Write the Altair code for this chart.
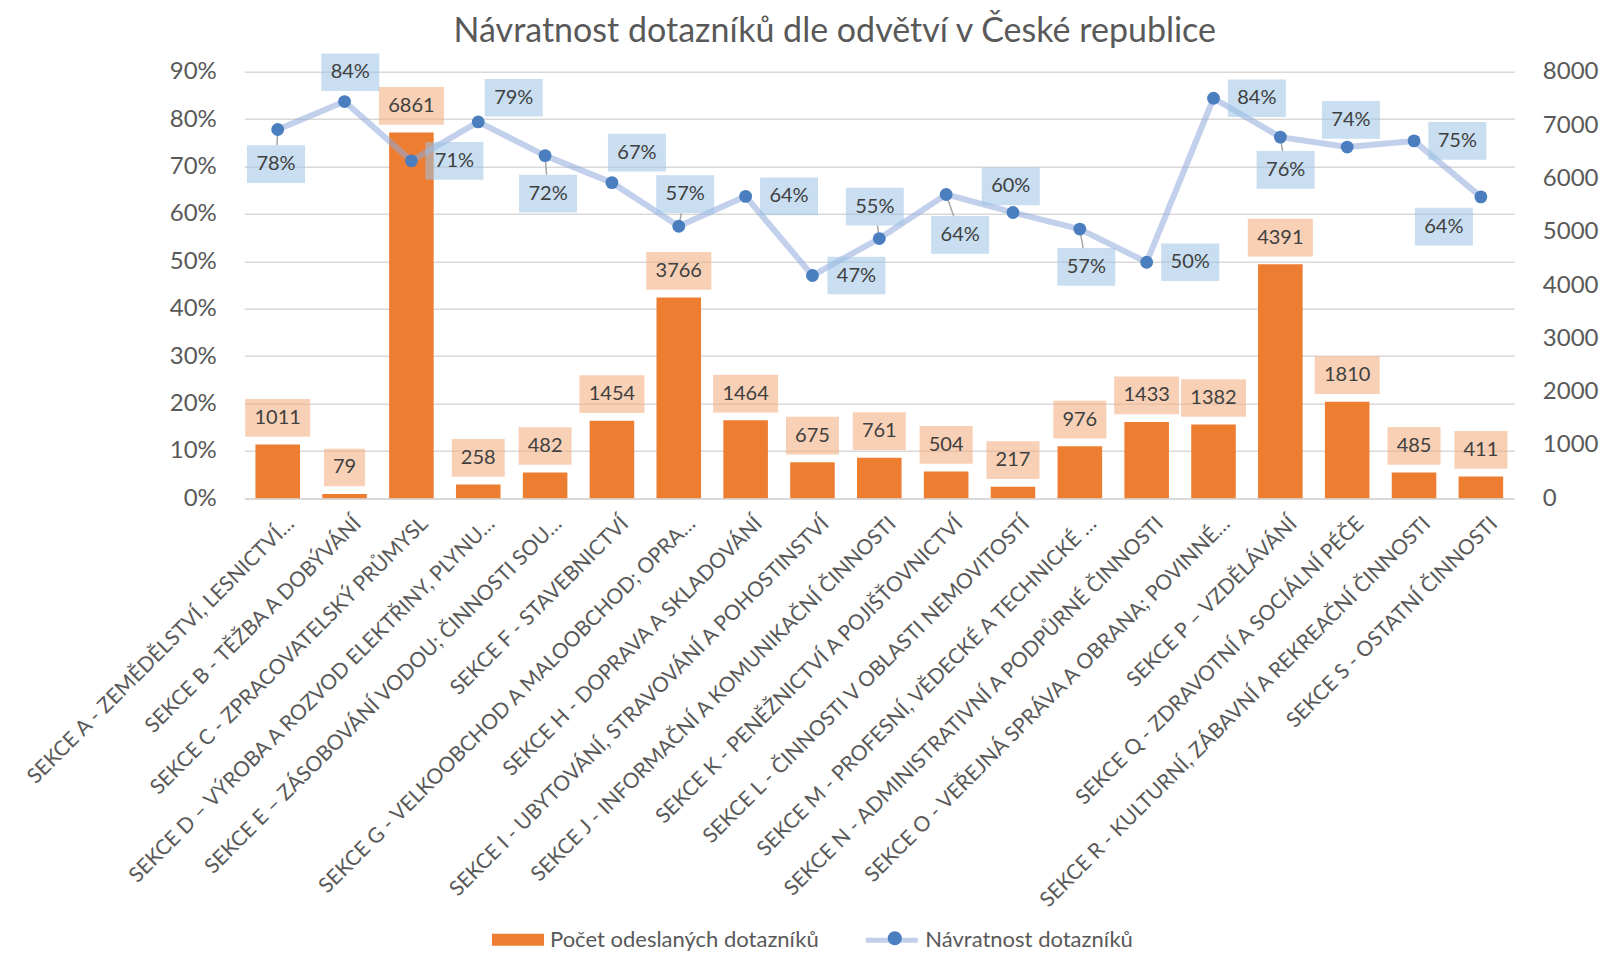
import json
import math
import altair as alt
import pandas as pd

# ---------------- data ----------------
categories = [
    "SEKCE A - ZEMĚDĚLSTVÍ, LESNICTVÍ…",
    "SEKCE B - TĚŽBA A DOBÝVÁNÍ",
    "SEKCE C - ZPRACOVATELSKÝ PRŮMYSL",
    "SEKCE D – VÝROBA A ROZVOD ELEKTŘINY, PLYNU…",
    "SEKCE E – ZÁSOBOVÁNÍ VODOU; ČINNOSTI SOU…",
    "SEKCE F - STAVEBNICTVÍ",
    "SEKCE G - VELKOOBCHOD A MALOOBCHOD; OPRA…",
    "SEKCE H - DOPRAVA A SKLADOVÁNÍ",
    "SEKCE I - UBYTOVÁNÍ, STRAVOVÁNÍ A POHOSTINSTVÍ",
    "SEKCE J - INFORMAČNÍ A KOMUNIKAČNÍ ČINNOSTI",
    "SEKCE K - PENĚŽNICTVÍ A POJIŠŤOVNICTVÍ",
    "SEKCE L - ČINNOSTI V OBLASTI NEMOVITOSTÍ",
    "SEKCE M - PROFESNÍ, VĚDECKÉ A TECHNICKÉ …",
    "SEKCE N - ADMINISTRATIVNÍ A PODPŮRNÉ ČINNOSTI",
    "SEKCE O - VEŘEJNÁ SPRÁVA A OBRANA; POVINNÉ…",
    "SEKCE P – VZDĚLÁVÁNÍ",
    "SEKCE Q - ZDRAVOTNÍ A SOCIÁLNÍ PÉČE",
    "SEKCE R - KULTURNÍ, ZÁBAVNÍ A REKREAČNÍ ČINNOSTI",
    "SEKCE S - OSTATNÍ ČINNOSTI",
]
sent = [1011, 79, 6861, 258, 482, 1454, 3766, 1464, 675, 761, 504, 217, 976,
        1433, 1382, 4391, 1810, 485, 411]
rate = [0.778, 0.837, 0.712, 0.794, 0.723, 0.666, 0.574, 0.637, 0.470, 0.548,
        0.641, 0.603, 0.568, 0.498, 0.844, 0.762, 0.741, 0.754, 0.636]

bar_series = "Počet odeslaných dotazníků"
line_series = "Návratnost dotazníků"
title_text = "Návratnost dotazníků dle odvětví v České republice"

y_left_ticks = [i / 10 for i in range(10)]
y_right_ticks = list(range(0, 8001, 1000))

# ---------------- layout (pixels, not data) ----------------
# label box offset from its point (px, +x right, +y down)
LBL_DX = [-1.7, 5.7, 43, 35.5, 3, 25, 6.4, 43.4, 44, -4.5, 14, -2.2, 6.5,
          43.5, 43.3, 5.3, 3.7, 43.3, -37]
LBL_DY = [34.5, -29.3, 0, -24.2, 38, -29.9, -32, 0, 0, -31.9, 40.5, -26.1,
          37.8, 0, 0, 32.8, -27.2, 0, 29.7]
LEADER = [1, 0, 0, 0, 1, 0, 1, 0, 0, 1, 1, 0, 1, 0, 0, 1, 0, 0, 0]

W, H = 1270.0, 426.6
PAD_L, PAD_T = 236.3, 63.7
VIEW_W, VIEW_H = 1592, 943
N = len(categories)
UX = W / N
UY_PCT = H / 0.9
UY_CNT = H / 8000.0
BOX_H = 37.7
BAR_GAP = 26.6

FONT = "Lato"
TXT = "#595959"
LBL = "#404040"
GRID = "#D9D9D9"


def box_w(s):
    return 17 + 12 * sum(ch.isdigit() for ch in s) + (17 if "%" in s else 0)


idx = list(range(N))

bars_df = pd.DataFrame({"idx": idx, "sent": sent})
bars_df["x0"] = bars_df.idx - 1 / 3
bars_df["x1"] = bars_df.idx + 1 / 3
bars_df["series"] = bar_series

bl = pd.DataFrame({"idx": idx, "sent": sent})
bl["label"] = [str(v) for v in sent]
bl["hw"] = [box_w(s) / 2 / UX for s in bl.label]
bl["x0"] = bl.idx - bl.hw
bl["x1"] = bl.idx + bl.hw
bl["yc"] = bl.sent + BAR_GAP / UY_CNT
bl["y0"] = bl.yc - BOX_H / 2 / UY_CNT
bl["y1"] = bl.yc + BOX_H / 2 / UY_CNT

line_df = pd.DataFrame({"idx": idx, "rate": rate})
line_df["series"] = line_series
line_df["dot"] = "dot"

ll = pd.DataFrame({"idx": idx, "rate": rate})
ll["label"] = [f"{round(v * 100)}%" for v in rate]
ll["xc"] = [i + dx / UX for i, dx in zip(idx, LBL_DX)]
ll["yc"] = [r - dy / UY_PCT for r, dy in zip(rate, LBL_DY)]
ll["hwpx"] = [box_w(s) / 2 for s in ll.label]
ll["x0"] = ll.xc - ll.hwpx / UX
ll["x1"] = ll.xc + ll.hwpx / UX
ll["y0"] = ll.yc - BOX_H / 2 / UY_PCT
ll["y1"] = ll.yc + BOX_H / 2 / UY_PCT

lead_rows = []
for i in idx:
    if not LEADER[i]:
        continue
    dx, dy = LBL_DX[i], LBL_DY[i]
    hw, hh = ll.hwpx[i], BOX_H / 2
    t = min(hw / abs(dx) if dx else math.inf, hh / abs(dy) if dy else math.inf)
    ex, ey = dx * (1 - t), dy * (1 - t)
    lead_rows.append({"idx": i, "rate": rate[i], "ex": i + ex / UX,
                      "ey": rate[i] - ey / UY_PCT})
lead_df = pd.DataFrame(lead_rows)

# ---------------- scales / axes ----------------
label_js = json.dumps(categories, ensure_ascii=False)
x_scale = alt.Scale(domain=[-0.5, N - 0.5], nice=False, zero=False)
x_axis = alt.Axis(
    values=idx, labelExpr=f"{label_js}[datum.value]", labelAngle=-45,
    labelAlign="right", labelBaseline="middle", labelPadding=22,
    labelOffset=13, labelFontSize=21, labelFont=FONT, labelColor=TXT,
    labelOverlap=False, labelFlush=False, labelLimit=1000, ticks=False,
    tickSize=0, domain=True, domainColor=GRID, domainWidth=1.5, grid=False,
    title=None,
)


def X(field):
    return alt.X(f"{field}:Q", scale=x_scale, axis=x_axis, title=None)


cnt_scale = alt.Scale(domain=[0, 8000], nice=False, zero=True)
cnt_axis = alt.Axis(
    orient="right", values=y_right_ticks, format="d", labelFontSize=24,
    labelFont=FONT, labelColor=TXT, labelPadding=28, ticks=False, tickSize=0,
    domain=False, grid=False, title=None,
)
pct_scale = alt.Scale(domain=[0, 0.9], nice=False, zero=True)
pct_axis = alt.Axis(
    orient="left", values=y_left_ticks, format=".0%", labelFontSize=24,
    labelFont=FONT, labelColor=TXT, labelPadding=28, ticks=False, tickSize=0,
    domain=False, grid=True, gridColor=GRID, gridWidth=1.5, title=None,
)


def YC(field):
    return alt.Y(f"{field}:Q", scale=cnt_scale, axis=cnt_axis, title=None)


def YP(field):
    return alt.Y(f"{field}:Q", scale=pct_scale, axis=pct_axis, title=None)


RECT_PATH = "M-1,-0.23L1,-0.23L1,0.23L-1,0.23Z"

# ---------------- bar layer ----------------
bars = alt.Chart(bars_df).mark_bar(opacity=1).encode(
    x=X("x0"), x2="x1", y=YC("sent"), y2=alt.datum(0),
    color=alt.Color(
        "series:N",
        scale=alt.Scale(domain=[bar_series], range=["#ED7D31"]),
        legend=alt.Legend(
            orient="none", legendX=247.7, legendY=842, title=None,
            symbolType=RECT_PATH, symbolSize=2704, symbolStrokeWidth=0,
            labelFont=FONT, labelFontSize=22, labelColor=TXT, labelOffset=6,
            labelLimit=600, padding=0,
        ),
    ),
)
bar_boxes = alt.Chart(bl).mark_rect(color="#F4B183", opacity=0.6).encode(
    x=X("x0"), x2="x1", y=YC("y0"), y2="y1"
)
bar_text = alt.Chart(bl).mark_text(
    font=FONT, fontSize=20, color=LBL, baseline="middle", align="center"
).encode(x=X("idx"), y=YC("yc"), text="label:N")

bar_layer = alt.layer(bars, bar_boxes, bar_text)

# ---------------- line layer ----------------
leaders = alt.Chart(lead_df).mark_rule(color="#A6A6A6", strokeWidth=1.5).encode(
    x=X("idx"), y=YP("rate"), x2="ex", y2="ey"
)
line = alt.Chart(line_df).mark_line(strokeWidth=6, strokeJoin="round").encode(
    x=X("idx"), y=YP("rate"),
    stroke=alt.Stroke(
        "series:N",
        scale=alt.Scale(domain=[line_series], range=["rgba(143,170,220,0.55)"]),
        legend=alt.Legend(
            orient="none", legendX=619, legendY=840, title=None,
            symbolType="stroke", symbolSize=2704, symbolStrokeWidth=5,
            labelFont=FONT, labelFontSize=22, labelColor=TXT, labelOffset=5,
            labelLimit=600, padding=0, zindex=1,
        ),
    ),
)
points = alt.Chart(line_df).mark_circle(size=165, opacity=1).encode(
    x=X("idx"), y=YP("rate"),
    fill=alt.Fill(
        "dot:N",
        scale=alt.Scale(domain=["dot"], range=["#4A7EBF"]),
        legend=alt.Legend(
            orient="none", legendX=643, legendY=859, title=None,
            symbolType="circle", symbolSize=200, symbolStrokeWidth=0,
            labelExpr="''", labelFontSize=1, padding=0, zindex=2,
        ),
    ),
)
line_boxes = alt.Chart(ll).mark_rect(color="#9DC3E6", opacity=0.55).encode(
    x=X("x0"), x2="x1", y=YP("y0"), y2="y1"
)
line_text = alt.Chart(ll).mark_text(
    font=FONT, fontSize=20, color=LBL, baseline="middle", align="center"
).encode(x=X("xc"), y=YP("yc"), text="label:N")

line_layer = alt.layer(leaders, line, points, line_boxes, line_text)

chart = (
    alt.layer(bar_layer, line_layer)
    .resolve_scale(y="independent")
    .properties(
        width=W, height=H,
        autosize=alt.AutoSizeParams(type="none"),
        padding={"left": PAD_L, "top": PAD_T,
                 "right": VIEW_W - PAD_L - W, "bottom": VIEW_H - PAD_T - H},
        title=alt.TitleParams(
            title_text, font=FONT, fontSize=34, fontWeight="normal",
            color=TXT, anchor="middle", frame="group", dx=-44.5, offset=4.5,
        ),
        background="white",
    )
    .configure_view(stroke=None)
)

chart.save("out.html", embed_options={"renderer": "svg", "actions": False})
